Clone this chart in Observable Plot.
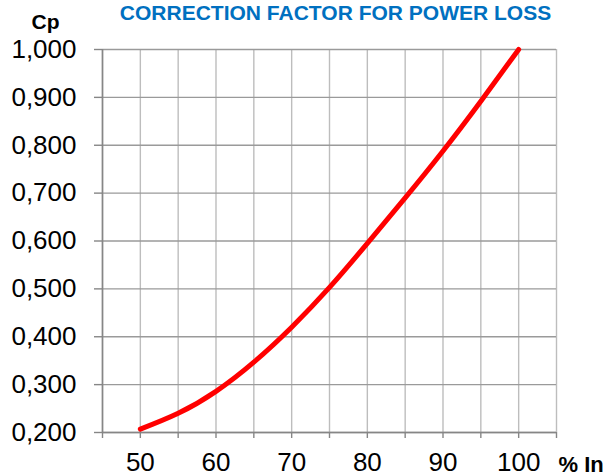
<!DOCTYPE html>
<html>
<head>
<meta charset="utf-8">
<script src="https://cdn.jsdelivr.net/npm/d3@7"></script>
<script src="https://cdn.jsdelivr.net/npm/@observablehq/plot@0.6"></script>
<style>
  html, body { margin: 0; padding: 0; background: #fff; }
  svg { display: block; }
</style>
</head>
<body>
<div id="chart"></div>
<script>
// Data
const loadPct = [50, 55, 60, 65, 70, 75, 80, 85, 90, 95, 100];
const cpValues = [0.207, 0.240, 0.286, 0.347, 0.420, 0.503, 0.595, 0.690, 0.788, 0.892, 1.000];
const xGridTicks = [45, 50, 55, 60, 65, 70, 75, 80, 85, 90, 95, 100, 105];
const xLabelTicks = [50, 60, 70, 80, 90, 100];
const yTicks = [0.2, 0.3, 0.4, 0.5, 0.6, 0.7, 0.8, 0.9, 1.0];
const titleText = "CORRECTION FACTOR FOR POWER LOSS";
const yLabel = "Cp";
const xLabel = "% In";

const data = loadPct.map((x, i) => ({x, y: cpValues[i]}));
const font = "'Liberation Sans', Arial, sans-serif";

const chart = Plot.plot({
  width: 608,
  height: 476,
  marginLeft: 102,
  marginRight: 52,
  marginTop: 49,
  marginBottom: 44,
  style: {fontFamily: font, fontSize: "26px", color: "#000", background: "#fff", overflow: "visible"},
  x: {domain: [45, 105]},
  y: {domain: [0.2, 1.0]},
  marks: [
    Plot.gridX(xGridTicks, {stroke: "#bdbdbd", strokeOpacity: 1, strokeWidth: 1.4}),
    Plot.gridY(yTicks, {stroke: "#9a9a9a", strokeOpacity: 1, strokeWidth: 1.4}),
    Plot.axisY(yTicks, {
      tickSize: 8, tickPadding: 18, stroke: "#868686", strokeWidth: 1.4,
      fill: "#000", fontSize: 26,
      tickFormat: d => d.toFixed(3).replace(".", ","),
      label: null
    }),
    Plot.axisX(xGridTicks, {
      tickSize: 6, tickPadding: 14, stroke: "#868686", strokeWidth: 1.4,
      fill: "#000", fontSize: 26,
      tickFormat: d => xLabelTicks.includes(d) ? String(d) : "",
      label: null
    }),
    Plot.ruleX([45], {stroke: "#868686", strokeWidth: 1.6}),
    Plot.ruleY([0.2], {stroke: "#868686", strokeWidth: 1.6}),
    Plot.line(data, {x: "x", y: "y", curve: "natural", stroke: "#ff0000", strokeWidth: 5, strokeLinecap: "round", strokeLinejoin: "round"}),
    Plot.text([titleText], {
      frameAnchor: "top", dx: 6, dy: -30, lineAnchor: "bottom",
      fill: "#0070c0", fontWeight: "bold", fontSize: 21, fontFamily: font
    }),
    Plot.text([yLabel], {
      frameAnchor: "top-left", dx: -57, dy: -20.5, lineAnchor: "bottom", textAnchor: "middle",
      fill: "#000", fontWeight: "bold", fontSize: 21, fontFamily: font
    }),
    Plot.text([xLabel], {
      frameAnchor: "bottom-right", dx: 2, dy: 39, lineAnchor: "bottom", textAnchor: "start",
      fill: "#000", fontWeight: "bold", fontSize: 22, fontFamily: font
    })
  ]
});
document.getElementById("chart").appendChild(chart);
</script>
</body>
</html>
